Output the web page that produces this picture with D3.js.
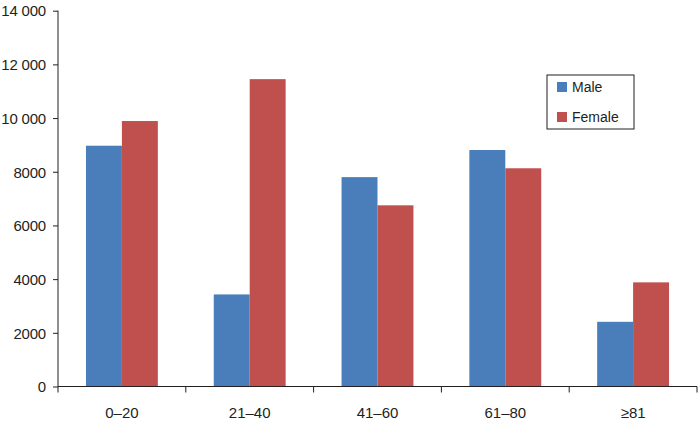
<!DOCTYPE html>
<html><head><meta charset="utf-8">
<script src="https://cdn.jsdelivr.net/npm/d3@7"></script>
<style>body{margin:0;background:#fff}svg{display:block}text{font-family:"Liberation Sans",Arial,sans-serif;fill:#231f20}</style>
</head><body><svg id="c" width="700" height="424"></svg>
<script>
const categories = ["0–20","21–40","41–60","61–80","≥81"];
const seriesNames = ["Male","Female"];
const maleValues = [8970, 3430, 7800, 8810, 2410];
const femaleValues = [9890, 11450, 6750, 8130, 3880];
const yTicks = [0,2000,4000,6000,8000,10000,12000,14000];
const yTickLabels = ["0","2000","4000","6000","8000","10 000","12 000","14 000"];
const colors = ["#4a7ebb","#c0504d"];

const svg = d3.select("#c");
const m = {l:58, r:3, t:10.7, b:37.5};
const W = 700, H = 424;
const x = d3.scaleBand().domain(categories).range([m.l, W-m.r]).paddingInner(0).paddingOuter(0);
const x1 = d3.scaleBand().domain(seriesNames).range([0, x.bandwidth()]).paddingInner(0).paddingOuter(0.778);
const y = d3.scaleLinear().domain([0,14000]).range([H-m.b, m.t]);

const data = categories.map((c,i)=>({c, vals:[maleValues[i], femaleValues[i]]}));
const g = svg.append("g");
data.forEach(d=>{
  d.vals.forEach((v,j)=>{
    g.append("rect")
      .attr("x", x(d.c)+x1(seriesNames[j]))
      .attr("y", y(v))
      .attr("width", x1.bandwidth())
      .attr("height", y(0)-y(v))
      .attr("fill", colors[j]);
  });
});

const yAxis = d3.axisLeft(y).tickValues(yTicks).tickFormat((d,i)=>yTickLabels[i]).tickSize(5).tickPadding(7);
const ya = svg.append("g").attr("transform",`translate(${m.l},0)`).call(yAxis);
ya.selectAll("text").style("font-size","15px").style("letter-spacing","-0.2px").attr("dy","0.35em");
ya.select(".domain").attr("stroke","#231f20").attr("d",`M-0,${y(14000)}V${y(0)}`);
ya.selectAll(".tick line").attr("stroke","#231f20");

const xAxis = d3.axisBottom(x).tickSize(0).tickPadding(21);
const xa = svg.append("g").attr("transform",`translate(0,${y(0)})`).call(xAxis);
xa.selectAll("text").style("font-size","15px");
xa.select(".domain").attr("stroke","#231f20").attr("d",`M${m.l},0H${W-m.r}`);
const bounds = categories.map(c=>x(c)).concat([x(categories[categories.length-1])+x.bandwidth()]);
xa.selectAll(".bt").data(bounds).enter().append("line").attr("class","bt")
  .attr("x1",d=>d).attr("x2",d=>d).attr("y1",0).attr("y2",6).attr("stroke","#231f20");

const lg = svg.append("g").attr("transform","translate(547,75)");
lg.append("rect").attr("width",87).attr("height",54).attr("fill","#fff").attr("stroke","#231f20").attr("stroke-width",1);
seriesNames.forEach((s,i)=>{
  lg.append("rect").attr("x",10).attr("y",7+i*30).attr("width",10).attr("height",10).attr("fill",colors[i]);
  lg.append("text").attr("x",25).attr("y",12+i*30).attr("dy","0.35em").style("font-size","14px").text(s);
});
</script></body></html>
